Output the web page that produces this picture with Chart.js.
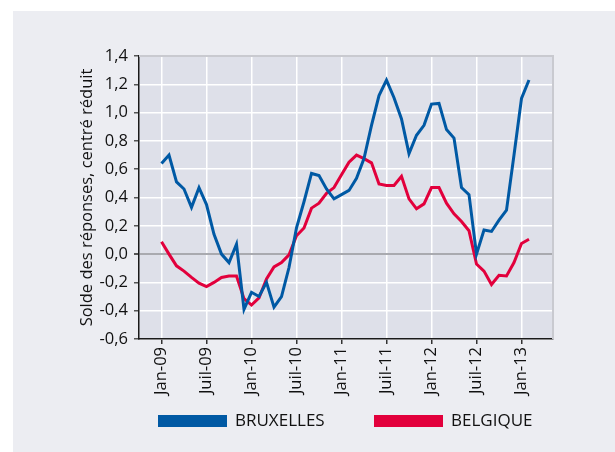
<!DOCTYPE html>
<html>
<head>
<meta charset="utf-8">
<script src="https://cdn.jsdelivr.net/npm/chart.js@4.4.0/dist/chart.umd.min.js"></script>
<style>
  html, body { margin: 0; padding: 0; background: #fff; }
  #wrap { width: 615px; height: 452px; }
</style>
</head>
<body>
<div id="wrap"><canvas id="myChart" width="615" height="452"></canvas></div>
<script>
// monthly values, Jan-09 .. Feb-13
const bruxelles = [0.64, 0.70, 0.51, 0.46, 0.33, 0.47, 0.35, 0.14, 0.00, -0.06, 0.07, -0.39, -0.27, -0.30,
  -0.20, -0.375, -0.30, -0.095, 0.185, 0.37, 0.57, 0.555, 0.46, 0.39, 0.42, 0.45, 0.535,
  0.675, 0.91, 1.12, 1.23, 1.105, 0.955, 0.71, 0.84, 0.91, 1.06, 1.065,
  0.88, 0.82, 0.47, 0.42, 0.00, 0.17, 0.16, 0.24, 0.31, 0.70, 1.10, 1.23];
const belgique = [0.087, 0.0, -0.083, -0.12, -0.165, -0.205, -0.23, -0.20, -0.165, -0.155, -0.155, -0.315, -0.36, -0.31,
  -0.175, -0.09, -0.06, -0.005, 0.13, 0.185, 0.325, 0.36, 0.43, 0.47, 0.56, 0.65, 0.70,
  0.675, 0.645, 0.495, 0.485, 0.485, 0.55, 0.39, 0.32, 0.355, 0.47, 0.47,
  0.36, 0.285, 0.23, 0.165, -0.07, -0.12, -0.215, -0.15, -0.155, -0.06, 0.075, 0.105];
const tickLabels = ['Jan-09', 'Juil-09', 'Jan-10', 'Juil-10', 'Jan-11', 'Juil-11', 'Jan-12', 'Juil-12', 'Jan-13'];
const seriesNames = ['BRUXELLES', 'BELGIQUE'];

const FONT = "'Open Sans', 'DejaVu Sans', sans-serif";
const blue = '#0059a4';
const red = '#e2003c';

const toPts = arr => arr.map((v, i) => ({x: i, y: v}));

const frame = {
  id: 'frame',
  beforeDraw(chart) {
    const c = chart.ctx, a = chart.chartArea;
    c.save();
    c.fillStyle = '#ffffff';
    c.fillRect(0, 0, chart.width, chart.height);
    c.fillStyle = '#ecedf2';
    c.fillRect(13, 11, chart.width - 13, chart.height - 11);
    c.fillStyle = '#dee0e9';
    c.fillRect(a.left, a.top, a.right - a.left, a.bottom - a.top);
    c.restore();
  },
  afterDraw(chart) {
    const c = chart.ctx, a = chart.chartArea;
    c.save();
    c.strokeStyle = '#c9cad0';
    c.lineWidth = 2;
    c.beginPath();
    c.moveTo(a.left, a.top);
    c.lineTo(a.right, a.top);
    c.lineTo(a.right, a.bottom);
    c.stroke();
    // legend
    const xs = [158, 374];
    c.font = '17px ' + FONT;
    c.textBaseline = 'middle';
    chart.data.datasets.forEach((ds, i) => {
      c.fillStyle = ds.borderColor;
      c.fillRect(xs[i], 415, 69, 12);
      c.fillStyle = '#111';
      c.fillText(ds.label, xs[i] + 77, 421);
    });
    c.restore();
  }
};

const ctx = document.getElementById('myChart').getContext('2d');
const myChart = new Chart(ctx, {
  type: 'line',
  data: {
    datasets: [{
      label: seriesNames[0],
      data: toPts(bruxelles),
      borderColor: blue,
      borderWidth: 3,
      pointRadius: 0,
      tension: 0
    }, {
      label: seriesNames[1],
      data: toPts(belgique),
      borderColor: red,
      borderWidth: 3,
      pointRadius: 0,
      tension: 0
    }]
  },
  options: {
    responsive: false,
    animation: false,
    layout: { padding: { top: 56, right: 62, bottom: 53, left: 0 } },
    plugins: { legend: { display: false }, tooltip: { enabled: false } },
    scales: {
      x: {
        type: 'linear',
        min: -3,
        max: 52.2,
        afterBuildTicks: s => { s.ticks = tickLabels.map((t, i) => ({value: i * 6})); },
        afterFit: s => { s.height = 60; },
        ticks: {
          minRotation: 90, maxRotation: 90, padding: 3,
          color: '#111',
          font: { family: FONT, size: 16.5 },
          callback: v => tickLabels[v / 6]
        },
        grid: { color: '#ffffff', lineWidth: 1.5, tickColor: '#333', tickLength: 5 },
        border: { color: '#1a1a1a', width: 1.5 }
      },
      y: {
        min: -0.6,
        max: 1.4,
        afterFit: s => { s.width = 139; },
        ticks: {
          stepSize: 0.2, padding: 6,
          color: '#111',
          font: { family: FONT, size: 16.5 },
          callback: v => v.toFixed(1).replace('.', ',')
        },
        grid: {
          color: c => Math.abs(c.tick.value) < 1e-9 ? '#a9aaaf' : '#ffffff',
          lineWidth: c => Math.abs(c.tick.value) < 1e-9 ? 2 : 1.5,
          tickColor: '#555', tickLength: 5
        },
        border: { color: '#1a1a1a', width: 1.5 },
        title: {
          display: true,
          text: 'Solde des réponses, centré réduit',
          color: '#111',
          font: { family: FONT, size: 16.5 },
          padding: { top: 77, bottom: 0 }
        }
      }
    }
  },
  plugins: [frame]
});
</script>
</body>
</html>
